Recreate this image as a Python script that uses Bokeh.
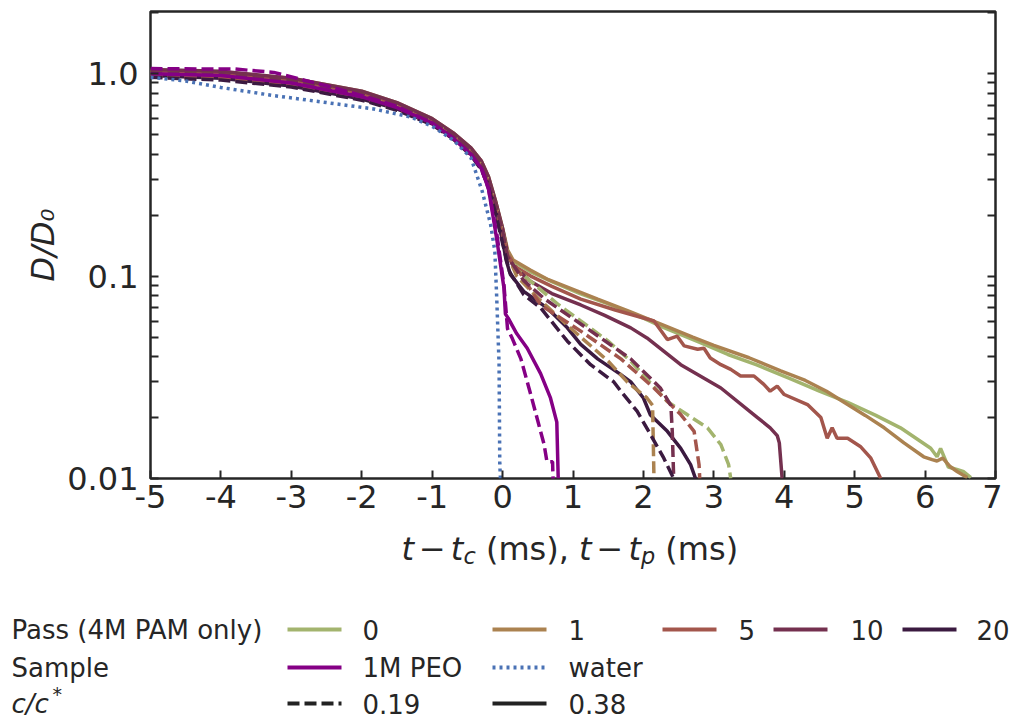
from bokeh.plotting import figure
from bokeh.models import FixedTicker, LogAxis, Range1d
from bokeh.core.properties import value
from bokeh.embed import file_html
from bokeh.resources import INLINE

# ---------------- data (t - t_c in ms, D/D0) ----------------
pass0_038_t = [-5, -4, -3, -2, -1.5, -1, -0.7, -0.45, -0.3, -0.2, -0.1, 0.0, 0.07, 0.15, 0.4, 0.7, 1.1, 1.5, 2.0, 2.3, 2.8, 3.2, 3.6, 4.1, 4.5, 4.9, 5.3, 5.65, 6.08, 6.17, 6.22, 6.33, 6.45, 6.55, 6.65]
pass0_038_D = [1.03, 1.01, 0.94, 0.81, 0.71, 0.59, 0.50, 0.42, 0.365, 0.305, 0.232, 0.170, 0.132, 0.118, 0.105, 0.094, 0.082, 0.073, 0.062, 0.0555, 0.047, 0.041, 0.0365, 0.031, 0.027, 0.0238, 0.0205, 0.0178, 0.0141, 0.0128, 0.0141, 0.0114, 0.0111, 0.0108, 0.0101]

pass1_038_t = [-5, -4, -3, -2, -1.5, -1, -0.7, -0.45, -0.3, -0.2, -0.1, 0.0, 0.07, 0.15, 0.4, 0.65, 1.0, 1.35, 1.8, 2.3, 2.7, 3.0, 3.5, 3.95, 4.3, 4.6, 4.9, 5.15, 5.42, 5.7, 5.98, 6.1, 6.17, 6.25, 6.35, 6.46, 6.6]
pass1_038_D = [1.04, 1.02, 0.95, 0.82, 0.72, 0.60, 0.51, 0.43, 0.37, 0.31, 0.235, 0.173, 0.135, 0.120, 0.107, 0.096, 0.086, 0.077, 0.067, 0.057, 0.050, 0.0455, 0.0395, 0.034, 0.0305, 0.027, 0.0232, 0.0205, 0.0178, 0.015, 0.0128, 0.0124, 0.0122, 0.0126, 0.0115, 0.0108, 0.0101]

pass5_038_t = [-5, -4, -3, -2, -1.5, -1, -0.7, -0.45, -0.3, -0.2, -0.1, 0.0, 0.07, 0.15, 0.4, 0.7, 1.11, 1.6, 2.15, 2.34, 2.48, 2.58, 2.77, 2.86, 2.95, 3.1, 3.24, 3.38, 3.57, 3.71, 3.8, 3.9, 4.0, 4.33, 4.52, 4.61, 4.68, 4.75, 4.9, 5.08, 5.23, 5.37]
pass5_038_D = [1.02, 1.0, 0.93, 0.80, 0.70, 0.585, 0.50, 0.42, 0.36, 0.30, 0.228, 0.168, 0.128, 0.113, 0.100, 0.089, 0.077, 0.068, 0.060, 0.0486, 0.0505, 0.0452, 0.0435, 0.044, 0.0394, 0.0365, 0.0346, 0.0321, 0.0321, 0.0292, 0.027, 0.0286, 0.026, 0.0232, 0.020, 0.0158, 0.0178, 0.0158, 0.0158, 0.0144, 0.0126, 0.010]

pass10_038_t = [-5, -4, -3, -2, -1.5, -1, -0.7, -0.45, -0.3, -0.2, -0.1, 0.0, 0.07, 0.15, 0.4, 0.7, 1.11, 1.45, 1.82, 2.05, 2.53, 3.1, 3.62, 3.8, 3.9, 3.93, 3.97]
pass10_038_D = [1.05, 1.03, 0.95, 0.82, 0.72, 0.60, 0.51, 0.43, 0.37, 0.31, 0.235, 0.172, 0.13, 0.112, 0.094, 0.082, 0.072, 0.064, 0.0555, 0.0495, 0.0365, 0.028, 0.020, 0.0178, 0.0163, 0.015, 0.010]

pass20_038_t = [-5, -4, -3, -2, -1.5, -1, -0.7, -0.45, -0.3, -0.2, -0.1, 0.0, 0.05, 0.11, 0.3, 0.63, 0.92, 1.11, 1.35, 1.68, 1.82, 2.0, 2.1, 2.34, 2.53, 2.67, 2.74]
pass20_038_D = [0.98, 0.95, 0.87, 0.75, 0.67, 0.565, 0.48, 0.40, 0.34, 0.28, 0.21, 0.15, 0.12, 0.102, 0.084, 0.0697, 0.0555, 0.046, 0.039, 0.0326, 0.030, 0.025, 0.0206, 0.0171, 0.0141, 0.0117, 0.010]

pass0_019_t = [-5, -4, -3, -2, -1.5, -1, -0.7, -0.45, -0.3, -0.2, -0.1, 0.0, 0.07, 0.15, 0.5, 0.8, 1.11, 1.49, 1.82, 2.05, 2.34, 2.62, 2.91, 3.1, 3.21, 3.24]
pass0_019_D = [1.0, 0.98, 0.91, 0.78, 0.69, 0.58, 0.49, 0.41, 0.355, 0.295, 0.225, 0.165, 0.13, 0.112, 0.088, 0.072, 0.060, 0.048, 0.038, 0.031, 0.024, 0.0207, 0.0178, 0.0147, 0.0117, 0.010]

pass1_019_t = [-5, -4, -3, -2, -1.5, -1, -0.7, -0.45, -0.3, -0.2, -0.1, 0.0, 0.07, 0.2, 0.5, 1.0, 1.5, 1.77, 2.05, 2.13, 2.15]
pass1_019_D = [0.99, 0.97, 0.90, 0.77, 0.68, 0.575, 0.49, 0.41, 0.35, 0.29, 0.22, 0.162, 0.128, 0.10, 0.078, 0.054, 0.038, 0.030, 0.025, 0.023, 0.010]

pass5_019_t = [-5, -4, -3, -2, -1.5, -1, -0.7, -0.45, -0.3, -0.2, -0.1, 0.0, 0.07, 0.26, 0.54, 1.11, 1.68, 2.15, 2.53, 2.72, 2.79, 2.8]
pass5_019_D = [0.97, 0.95, 0.88, 0.76, 0.67, 0.57, 0.485, 0.405, 0.345, 0.285, 0.215, 0.16, 0.128, 0.102, 0.072, 0.0535, 0.039, 0.028, 0.0207, 0.0171, 0.0117, 0.010]

pass10_019_t = [-5, -4, -3, -2, -1.5, -1, -0.7, -0.45, -0.3, -0.2, -0.1, 0.0, 0.07, 0.3, 0.6, 1.11, 1.82, 2.24, 2.39, 2.41, 2.43]
pass10_019_D = [1.01, 0.99, 0.92, 0.79, 0.70, 0.585, 0.50, 0.42, 0.36, 0.30, 0.228, 0.167, 0.125, 0.095, 0.077, 0.058, 0.039, 0.028, 0.023, 0.017, 0.010]

pass20_019_t = [-5, -4, -3, -2, -1.5, -1, -0.7, -0.45, -0.3, -0.2, -0.1, 0.0, 0.1, 0.3, 0.54, 0.92, 1.25, 1.58, 1.68, 1.91, 2.1, 2.29, 2.43]
pass20_019_D = [0.96, 0.93, 0.86, 0.74, 0.66, 0.56, 0.475, 0.395, 0.335, 0.275, 0.205, 0.145, 0.105, 0.081, 0.0697, 0.0477, 0.0365, 0.030, 0.027, 0.0215, 0.0165, 0.0126, 0.010]

peo_038_t = [-5, -4, -3, -2, -1.5, -1, -0.7, -0.45, -0.3, -0.2, -0.08, 0.02, 0.04, 0.08, 0.2, 0.35, 0.54, 0.68, 0.77, 0.79]
peo_038_D = [1.0, 0.98, 0.90, 0.77, 0.68, 0.57, 0.48, 0.40, 0.34, 0.27, 0.15, 0.087, 0.065, 0.062, 0.052, 0.044, 0.033, 0.025, 0.019, 0.010]

peo_019_t = [-5, -4.2, -3.8, -3.25, -2.49, -2, -1.5, -1, -0.7, -0.45, -0.3, -0.2, -0.08, 0.02, 0.07, 0.14, 0.26, 0.40, 0.59, 0.63, 0.71, 0.72]
peo_019_D = [1.06, 1.055, 1.055, 1.015, 0.87, 0.78, 0.69, 0.57, 0.48, 0.40, 0.34, 0.27, 0.16, 0.09, 0.055, 0.049, 0.039, 0.026, 0.0147, 0.0121, 0.0121, 0.009]

water_t = [-5, -4.5, -4, -3.25, -2.5, -1.83, -1.3, -1, -0.7, -0.45, -0.29, -0.17, -0.11, -0.085, -0.05, -0.04, -0.03]
water_D = [0.96, 0.92, 0.855, 0.78, 0.72, 0.67, 0.61, 0.55, 0.47, 0.385, 0.263, 0.18, 0.133, 0.081, 0.037, 0.0118, 0.010]

pass_labels = ["0", "1", "5", "10", "20"]
sample_labels = ["1M PEO", "water"]
conc_labels = ["0.19", "0.38"]
x_ticks = [-5, -4, -3, -2, -1, 0, 1, 2, 3, 4, 5, 6, 7]
y_ticks = [0.01, 0.1, 1.0]
y_tick_labels = ["0.01", "0.1", "1.0"]

# ---------------- styles ----------------
PASS_COLORS = ["#a3b46e", "#ab8250", "#a3564c", "#74304f", "#3b1a40"]
PEO_COLOR = "#850085"
WATER_COLOR = "#4a72b5"
INK = "#262626"
FONT = "DejaVu Sans"
LW = 3.5
DASH = "12 5"
DOT = "3 4"

p = figure(width=1002, height=530, y_axis_type="log",
           x_range=(-5, 7), y_range=(0.01, 2.03),
           output_backend="svg", toolbar_location=None,
           min_border_left=150, min_border_right=7,
           min_border_top=11, min_border_bottom=52)
p.background_fill_color = "white"
p.border_fill_color = "white"
p.outline_line_color = INK
p.outline_line_width = 2.5
p.xgrid.grid_line_color = None
p.ygrid.grid_line_color = None

solid_sets = [(pass0_038_t, pass0_038_D), (pass1_038_t, pass1_038_D), (pass5_038_t, pass5_038_D),
              (pass10_038_t, pass10_038_D), (pass20_038_t, pass20_038_D)]
dash_sets = [(pass0_019_t, pass0_019_D), (pass1_019_t, pass1_019_D), (pass5_019_t, pass5_019_D),
             (pass10_019_t, pass10_019_D), (pass20_019_t, pass20_019_D)]

for (t, d), c in zip(solid_sets, PASS_COLORS):
    p.line(t, d, line_color=c, line_width=LW)
for (t, d), c in zip(dash_sets, PASS_COLORS):
    p.line(t, d, line_color=c, line_width=LW, line_dash=DASH)
p.line(peo_038_t, peo_038_D, line_color=PEO_COLOR, line_width=LW)
p.line(peo_019_t, peo_019_D, line_color=PEO_COLOR, line_width=LW, line_dash=DASH)
p.line(water_t, water_D, line_color=WATER_COLOR, line_width=LW, line_dash=DOT)

minor = []
for dec in [0.01, 0.1, 1.0]:
    for k in range(2, 10):
        minor.append(dec * k)

xa = p.xaxis[0]
xa.ticker = FixedTicker(ticks=x_ticks)
xa.major_label_overrides = {t: str(t) for t in x_ticks}
xa.axis_line_color = None
xa.major_tick_in = 8
xa.major_tick_out = 0
xa.major_tick_line_color = INK
xa.major_tick_line_width = 2
xa.minor_tick_line_color = None
xa.major_label_text_font = FONT
xa.major_label_text_font_size = "32px"
xa.major_label_text_color = INK
xa.major_label_standoff = 6

ya = p.yaxis[0]
ya.ticker = FixedTicker(ticks=y_ticks, minor_ticks=minor)
ya.major_label_overrides = dict(zip(y_ticks, y_tick_labels))
ya.axis_line_color = None
ya.major_tick_in = 8
ya.major_tick_out = 0
ya.minor_tick_in = 8
ya.minor_tick_out = 0
ya.major_tick_line_color = INK
ya.minor_tick_line_color = INK
ya.major_tick_line_width = 2
ya.minor_tick_line_width = 2
ya.major_label_text_font = FONT
ya.major_label_text_font_size = "32px"
ya.major_label_text_color = INK
ya.major_label_standoff = 12
ya.axis_label = "D/D\u2080"
ya.axis_label_text_font = FONT
ya.axis_label_text_font_size = "32px"
ya.axis_label_text_font_style = "italic"
ya.axis_label_text_color = INK
ya.axis_label_standoff = 2

ra = LogAxis(ticker=FixedTicker(ticks=y_ticks, minor_ticks=minor))
ra.major_label_overrides = {t: "" for t in y_ticks}
ra.axis_line_color = None
ra.major_tick_in = 8
ra.major_tick_out = 0
ra.minor_tick_in = 8
ra.minor_tick_out = 0
ra.major_tick_line_color = INK
ra.minor_tick_line_color = INK
ra.major_tick_line_width = 2
ra.minor_tick_line_width = 2
ra.major_label_standoff = 0
ra.major_label_text_font_size = "1px"
p.add_layout(ra, "right")

# ---------------- lower panel: x-axis label and legend (page-pixel coordinates) ----------------
q = figure(width=1010, height=190, x_range=Range1d(0, 1010), y_range=Range1d(720, 530),
           output_backend="svg", toolbar_location=None,
           x_axis_location=None, y_axis_location=None, min_border=0)
q.outline_line_color = None
q.xgrid.grid_line_color = None
q.ygrid.grid_line_color = None
q.background_fill_color = "white"
q.border_fill_color = "white"

# x-axis label built from pieces (DejaVu Sans advance widths in em)
ADV = {"t": 0.392, "c": 0.550, "p": 0.635, "\u2212": 0.838, " ": 0.318, "(": 0.390, ")": 0.390,
       "m": 0.974, "s": 0.521, ",": 0.318}
fs = 32.0
sub = 0.7 * fs
base = 548.0
gap = 5.0
sp = ADV[" "] * fs
pieces = [("t", "italic", fs, 0, 0), ("\u2212", "normal", fs, 0, gap), ("t", "italic", fs, 0, gap),
          ("c", "italic", sub, 7, 0), ("(ms),", "normal", fs, 0, sp),
          ("t", "italic", fs, 0, sp), ("\u2212", "normal", fs, 0, gap),
          ("t", "italic", fs, 0, gap), ("p", "italic", sub, 7, 0), ("(ms)", "normal", fs, 0, sp)]
xpos = 401.0
for txt, style, size, dy, pre in pieces:
    xpos += pre
    q.text(x=[xpos], y=[base + dy], text=[txt], text_font=value(FONT),
           text_font_size=f"{size:.1f}px", text_font_style=style, text_color=INK,
           text_baseline="alphabetic", text_align="left")
    xpos += sum(ADV[ch] for ch in txt) * size

# legend
LFS = "26px"
rows = [629, 667, 703]
hdr_x = 11
q.text(x=[hdr_x, hdr_x], y=rows[:2], text=["Pass (4M PAM only)", "Sample"], text_font=value(FONT),
       text_font_size=LFS, text_color=INK, text_baseline="middle", text_align="left")
q.text(x=[hdr_x], y=[rows[2]], text=["c/c"], text_font=value(FONT), text_font_style="italic",
       text_font_size=LFS, text_color=INK, text_baseline="middle", text_align="left")
q.text(x=[hdr_x + 41], y=[rows[2] - 10], text=["*"], text_font=value(FONT),
       text_font_size="19px", text_color=INK, text_baseline="middle", text_align="left")

hx0 = [287, 492, 662, 773, 902]
hlen = 54
lab_x = [362, 568, 738, 850, 976]
HLW = 4

for i, (lab, c) in enumerate(zip(pass_labels, PASS_COLORS)):
    q.line([hx0[i], hx0[i] + hlen], [rows[0], rows[0]], line_color=c, line_width=HLW)
    q.text(x=[lab_x[i]], y=[rows[0]], text=[lab], text_font=value(FONT), text_font_size=LFS,
           text_color=INK, text_baseline="middle", text_align="left")

q.line([hx0[0], hx0[0] + hlen], [rows[1], rows[1]], line_color=PEO_COLOR, line_width=HLW)
q.line([hx0[1], hx0[1] + hlen], [rows[1], rows[1]], line_color=WATER_COLOR, line_width=HLW, line_dash=DOT)
q.line([hx0[0], hx0[0] + hlen], [rows[2], rows[2]], line_color="#222222", line_width=HLW, line_dash=DASH)
q.line([hx0[1], hx0[1] + hlen], [rows[2], rows[2]], line_color="#222222", line_width=HLW)
for j, lab in enumerate(sample_labels):
    q.text(x=[lab_x[j]], y=[rows[1]], text=[lab], text_font=value(FONT), text_font_size=LFS,
           text_color=INK, text_baseline="middle", text_align="left")
for j, lab in enumerate(conc_labels):
    q.text(x=[lab_x[j]], y=[rows[2]], text=[lab], text_font=value(FONT), text_font_size=LFS,
           text_color=INK, text_baseline="middle", text_align="left")

open("out.html", "w").write(file_html([p, q], INLINE))
